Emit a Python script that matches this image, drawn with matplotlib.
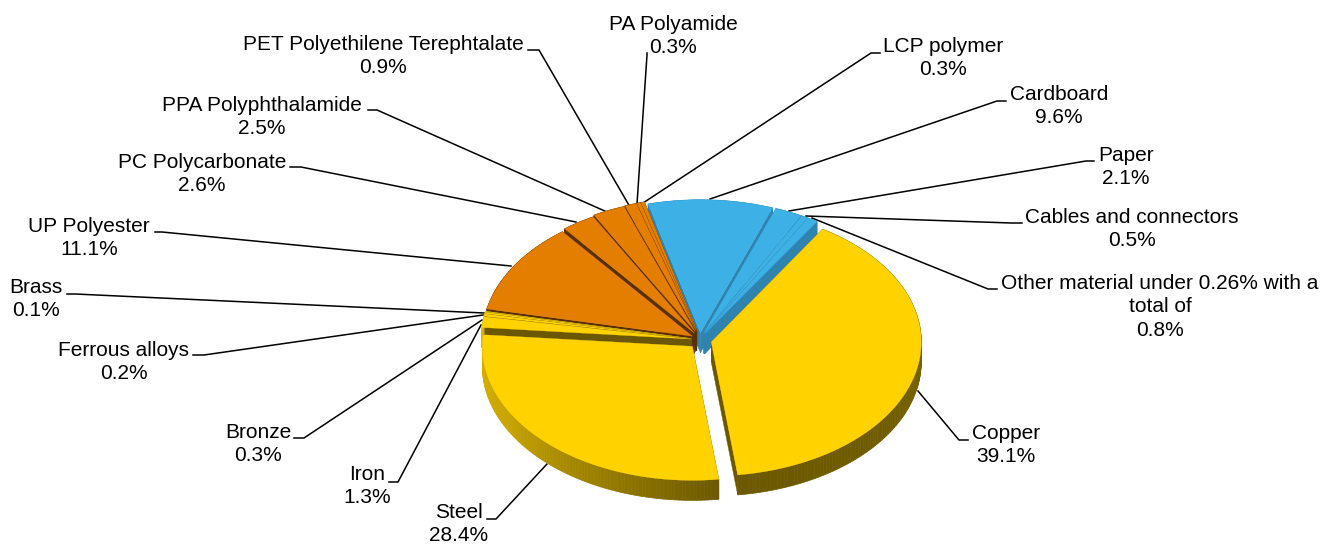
import numpy as np
from matplotlib import pyplot as plt

names = ['Copper', 'Steel', 'Iron', 'Bronze', 'Ferrous alloys', 'Brass', 'UP Polyester',
         'PC Polycarbonate', 'PPA Polyphthalamide', 'PET Polyethilene Terephtalate',
         'PA Polyamide', 'LCP polymer', 'Cardboard', 'Paper', 'Cables and connectors',
         'Other material under 0.26% with a\ntotal of']
values = [39.1, 28.4, 1.3, 0.3, 0.2, 0.1, 11.1, 2.6, 2.5, 0.9, 0.3, 0.3, 9.6, 2.1, 0.5, 0.8]
groups = ['y', 'y', 'y', 'y', 'y', 'y', 'o', 'o', 'o', 'o', 'o', 'o', 'b', 'b', 'b', 'b']

# layout, all in pixels of the 1332x544 picture
label_x = [1006, 459, 367, 258, 124, 36, 89, 202, 262, 383, 673, 943, 1059, 1126, 1132, 1160]
label_y = [445, 524, 486, 444, 362, 299, 238, 174, 117, 56, 36, 58, 106, 167, 229, 307]
leaders = [
    [(968, 440), (959, 440), (918, 391)],
    [(487, 519), (496, 519), (547, 464)],
    [(389, 482), (398, 482), (481, 325)],
    [(294, 438), (304, 438), (482, 320)],
    [(193, 355), (204, 355), (483, 315)],
    [(67, 294), (75, 294), (484, 313)],
    [(155, 232), (162, 232), (511, 266)],
    [(290, 167), (301, 167), (576, 222)],
    [(368, 110), (377, 110), (607, 212)],
    [(528, 50), (539, 50), (630, 207)],
    [(647, 53), (647, 55), (637, 204)],
    [(880, 53), (871, 53), (643, 203)],
    [(1006, 101), (997, 101), (710, 199)],
    [(1094, 161), (1086, 161), (789, 211)],
    [(1022, 223), (1011, 223), (806, 216)],
    [(997, 289), (988, 289), (812, 218)],
]
explode = [11.5, 11, 9, 9, 9, 9, 9, 10, 11.5, 12, 12, 12, 9, 9, 9, 9]
cx, cy = 700, 340
rx, ry_top, ry_bot = 210, 133, 134
depth = 20
start = 32

top_col = {'y': '#FFD200', 'o': '#E47E00', 'b': '#3DB0E6'}
wall_col = {'y': '#6B5700', 'o': '#5A2F00', 'b': '#2E84AE'}


def shade(hexcol, k):
    rgb = np.array([int(hexcol[i:i + 2], 16) for i in (1, 3, 5)]) / 255
    return tuple(rgb * k)


def rim(a, x0, y0):
    t = np.radians(a)
    dy = np.cos(t)
    ry = np.where(dy > 0, ry_top, ry_bot)
    return x0 + rx * np.sin(t), y0 - ry * dy


plt.rcParams['font.family'] = ['Liberation Sans', 'DejaVu Sans']
fig = plt.figure(figsize=(13.32, 5.44), dpi=100)
ax = fig.add_axes([0, 0, 1, 1])
ax.set_xlim(0, 1332)
ax.set_ylim(544, 0)
ax.axis('off')

# angles clockwise from the top
ends = start + np.cumsum(values) * 3.6
starts = ends - np.array(values) * 3.6
mids = (starts + ends) / 2
order = sorted(range(len(values)), key=lambda i: -np.cos(np.radians(mids[i])))

for i in order:
    g = groups[i]
    m = np.radians(mids[i])
    x0 = cx + explode[i] * np.sin(m)
    y0 = cy - explode[i] * np.cos(m) * 0.8
    a = np.linspace(starts[i], ends[i], max(int(values[i] * 3.6), 2) + 1)
    xs, ys = rim(a, x0, y0)

    # radial walls
    for xe, ye in ((xs[0], ys[0]), (xs[-1], ys[-1])):
        ax.fill([x0, xe, xe, x0], [y0, ye, ye + depth, y0 + depth],
                color=wall_col[g], lw=0.3, zorder=3)
    # outer wall, shaded by direction on the yellow front
    for j in range(len(a) - 1):
        c = wall_col[g]
        if g == 'y':
            k = np.interp(a[j] % 360, [90, 172, 215, 240, 275], [0.46, 0.42, 0.65, 0.78, 0.85])
            c = shade(top_col[g], k)
        ax.fill([xs[j], xs[j + 1], xs[j + 1], xs[j]],
                [ys[j], ys[j + 1], ys[j + 1] + depth, ys[j] + depth],
                color=c, lw=0.5, zorder=3)
    ax.fill(np.r_[x0, xs], np.r_[y0, ys], color=top_col[g], lw=0.2, zorder=3)

for i, pts in enumerate(leaders):
    ax.plot([p[0] for p in pts], [p[1] for p in pts], color='black', lw=1.1, zorder=2)
    ax.text(label_x[i], label_y[i], '%s\n%.1f%%' % (names[i], values[i]), ha='center', va='center',
            multialignment='center', fontsize=15, linespacing=1.28, color='black', zorder=5)

plt.savefig('out.png', dpi=100)
